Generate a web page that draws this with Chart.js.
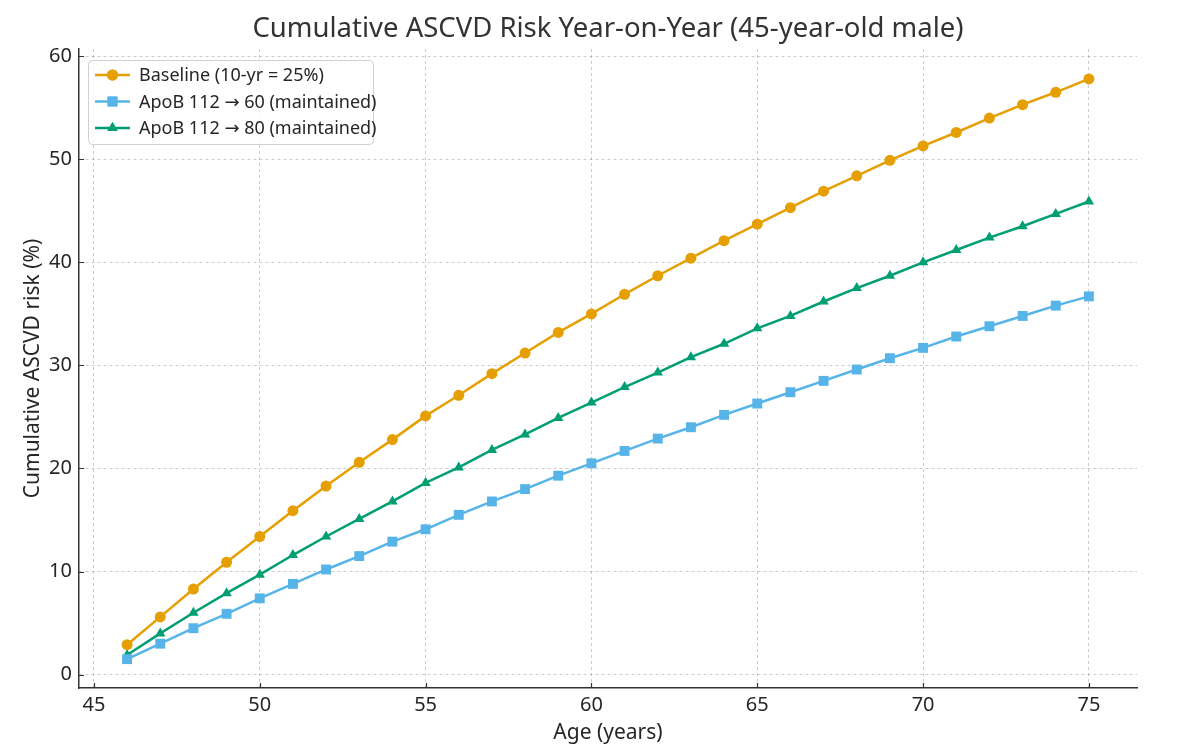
<!DOCTYPE html>
<html>
<head>
<meta charset="utf-8">
<script src="https://cdn.jsdelivr.net/npm/chart.js@4"></script>
<style>
  html, body { margin: 0; padding: 0; background: #fff; }
  #wrap { width: 1200px; height: 751px; }
</style>
</head>
<body>
<div id="wrap"><canvas id="chart"></canvas></div>
<script>
const ages = [46, 47, 48, 49, 50, 51, 52, 53, 54, 55, 56, 57, 58, 59, 60,
              61, 62, 63, 64, 65, 66, 67, 68, 69, 70, 71, 72, 73, 74, 75];

const baseline = [2.9, 5.6, 8.3, 10.9, 13.4, 15.9, 18.3, 20.6, 22.8, 25.1,
                  27.1, 29.2, 31.2, 33.2, 35.0, 36.9, 38.7, 40.4, 42.1, 43.7,
                  45.3, 46.9, 48.4, 49.9, 51.3, 52.6, 54.0, 55.3, 56.5, 57.8];

const apob60 = [1.5, 3.0, 4.5, 5.9, 7.4, 8.8, 10.2, 11.5, 12.9, 14.1,
                15.5, 16.8, 18.0, 19.3, 20.5, 21.7, 22.9, 24.0, 25.2, 26.3,
                27.4, 28.5, 29.6, 30.7, 31.7, 32.8, 33.8, 34.8, 35.8, 36.7];

const apob80 = [1.9, 4.0, 6.0, 7.9, 9.7, 11.6, 13.4, 15.1, 16.8, 18.6,
                20.1, 21.8, 23.3, 24.9, 26.4, 27.9, 29.3, 30.8, 32.1, 33.6,
                34.8, 36.2, 37.5, 38.7, 40.0, 41.2, 42.4, 43.5, 44.7, 45.9];

const xTicks = [45, 50, 55, 60, 65, 70, 75];
const yTicks = [0, 10, 20, 30, 40, 50, 60];

const orange = '#E69F00';
const blue = '#56B4E9';
const green = '#009E73';
const font = "'Noto Sans', 'DejaVu Sans', sans-serif";
const ink = '#262626';
const grid = 'rgba(0, 0, 0, 0.2)';

function pts(values) {
    return ages.map((a, i) => ({ x: a, y: values[i] }));
}

// matplotlib-style inward tick marks
const innerTicks = {
    id: 'innerTicks',
    afterDraw(chart) {
        const { ctx, chartArea, scales } = chart;
        ctx.save();
        ctx.strokeStyle = '#333';
        ctx.lineWidth = 1.2;
        ctx.beginPath();
        xTicks.forEach(v => {
            const px = Math.round(scales.x.getPixelForValue(v)) + 0.5;
            ctx.moveTo(px, chartArea.bottom);
            ctx.lineTo(px, chartArea.bottom - 5);
        });
        yTicks.forEach(v => {
            const py = Math.round(scales.y.getPixelForValue(v)) + 0.5;
            ctx.moveTo(chartArea.left, py);
            ctx.lineTo(chartArea.left + 5, py);
        });
        ctx.stroke();
        ctx.restore();
    }
};

// legend drawn inside the axes, top-left, with line + marker samples
const boxLegend = {
    id: 'boxLegend',
    afterDraw(chart) {
        const { ctx, chartArea } = chart;
        const x0 = chartArea.left + 9, y0 = chartArea.top + 11;
        const w = 285, h = 84, rowH = 26.5;
        ctx.save();
        ctx.fillStyle = 'rgba(255,255,255,0.8)';
        ctx.strokeStyle = '#d0d0d0';
        ctx.lineWidth = 1;
        ctx.beginPath();
        ctx.roundRect(x0 + 0.5, y0 + 0.5, w, h, 4);
        ctx.fill();
        ctx.stroke();
        chart.data.datasets.forEach((ds, i) => {
            const cy = y0 + 15 + i * rowH;
            ctx.strokeStyle = ds.borderColor;
            ctx.lineWidth = 2.5;
            ctx.beginPath();
            ctx.moveTo(x0 + 7, cy);
            ctx.lineTo(x0 + 42, cy);
            ctx.stroke();
            ctx.fillStyle = ds.borderColor;
            Chart.helpers.drawPoint(ctx, {
                pointStyle: ds.pointStyle,
                radius: ds.pointRadius,
                borderWidth: 0
            }, x0 + 24.5, cy);
            ctx.fill();
            ctx.fillStyle = ink;
            ctx.font = "18px " + font;
            ctx.textBaseline = 'middle';
            ctx.fillText(ds.label, x0 + 51, cy + 1);
        });
        ctx.restore();
    }
};

new Chart(document.getElementById('chart'), {
    type: 'line',
    data: {
        datasets: [
            {
                label: 'Baseline (10-yr = 25%)',
                data: pts(baseline),
                borderColor: orange,
                backgroundColor: orange,
                pointStyle: 'circle',
                pointRadius: 5.5,
            },
            {
                label: 'ApoB 112 \u2192 60 (maintained)',
                data: pts(apob60),
                borderColor: blue,
                backgroundColor: blue,
                pointStyle: 'rect',
                pointRadius: 7,
            },
            {
                label: 'ApoB 112 \u2192 80 (maintained)',
                data: pts(apob80),
                borderColor: green,
                backgroundColor: green,
                pointStyle: 'triangle',
                pointRadius: 6,
            },
        ],
    },
    options: {
        responsive: true,
        maintainAspectRatio: false,
        animation: false,
        elements: {
            line: { borderWidth: 2.5, tension: 0 },
            point: { borderWidth: 0, hoverRadius: 6 },
        },
        layout: { padding: { left: 0, right: 63, top: 0, bottom: 0 } },
        plugins: {
            legend: { display: false },
            tooltip: { enabled: false },
            title: {
                display: true,
                fullSize: false,
                text: 'Cumulative ASCVD Risk Year-on-Year (45-year-old male)',
                color: '#333',
                font: { family: font, size: 27.5, weight: 'normal' },
                padding: { top: 13, bottom: 3 },
            },
        },
        scales: {
            x: {
                type: 'linear',
                min: 44.55,
                max: 76.45,
                afterBuildTicks: s => { s.ticks = xTicks.map(v => ({ value: v })); },
                afterFit: s => { s.height = 63; },
                grid: { color: grid, drawTicks: false },
                border: { display: true, color: '#333', width: 1.5, dash: [3, 3] },
                ticks: { color: ink, font: { family: font, size: 20 }, padding: 5 },
                title: {
                    display: true,
                    text: 'Age (years)',
                    color: ink,
                    font: { family: font, size: 21 },
                    padding: { top: 0, bottom: 5 },
                },
            },
            y: {
                type: 'linear',
                min: -1.3,
                max: 60.7,
                afterBuildTicks: s => { s.ticks = yTicks.map(v => ({ value: v })); },
                afterFit: s => { s.width = 79; },
                grid: { color: grid, drawTicks: false },
                border: { display: true, color: '#333', width: 1.5, dash: [3, 3] },
                ticks: { color: ink, font: { family: font, size: 20 }, padding: 7 },
                title: {
                    display: true,
                    text: 'Cumulative ASCVD risk (%)',
                    color: ink,
                    font: { family: font, size: 21 },
                    padding: { top: 20, bottom: 0 },
                },
            },
        },
    },
    plugins: [innerTicks, boxLegend],
});
</script>
</body>
</html>
